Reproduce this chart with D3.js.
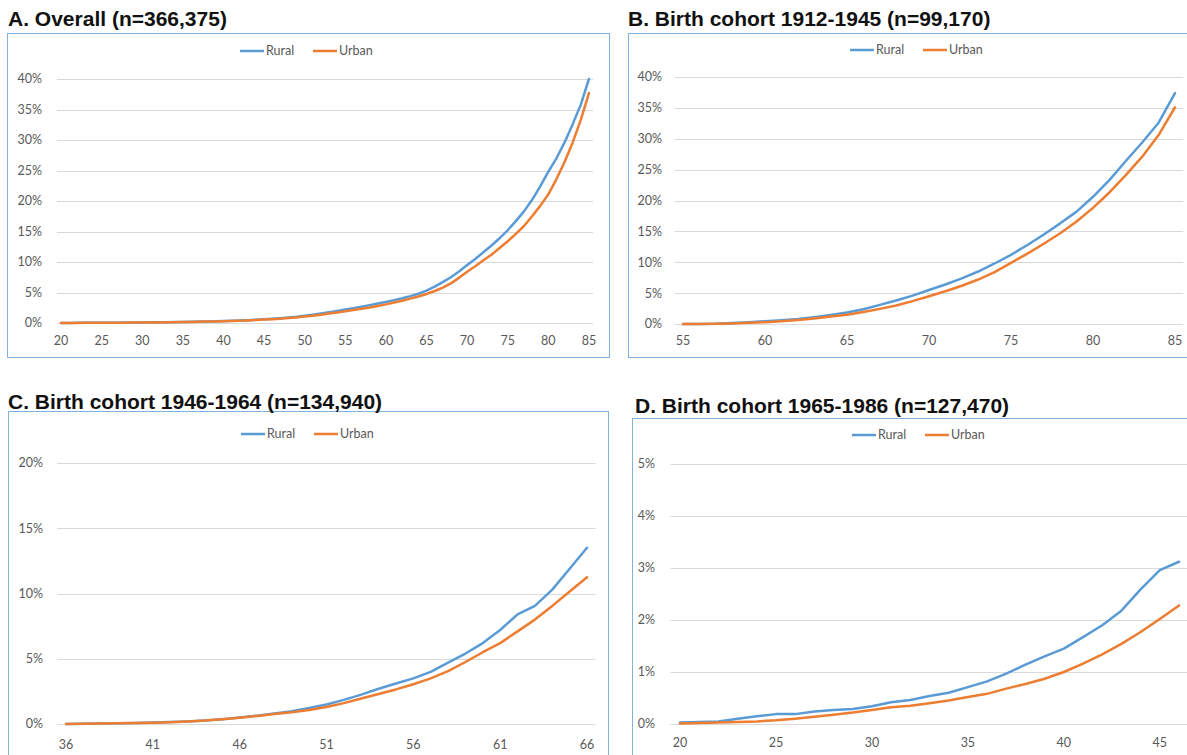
<!DOCTYPE html>
<html>
<head>
<meta charset="utf-8">
<script src="https://cdn.jsdelivr.net/npm/d3@7"></script>
<style>
  body { margin: 0; background: #fff; }
  svg { display: block; }
  .title { font-family: "Liberation Sans", Arial, sans-serif; font-weight: bold; font-size: 21px; fill: #111; }
  .tick-label, .legend-label { font-family: Lato, "Open Sans", sans-serif; font-size: 12.5px; fill: #595959; }
</style>
</head>
<body>
<svg id="chart" width="1187" height="755"></svg>
<script>
const RURAL_COLOR = '#5B9BD5';
const URBAN_COLOR = '#ED7D31';

// A. Overall, ages 20-85
const agesA = d3.range(20, 86);
const ruralA = [0.02, 0.02, 0.03, 0.03, 0.04, 0.05, 0.05, 0.06, 0.07, 0.08, 0.1,
    0.11, 0.12, 0.14, 0.16, 0.18, 0.2, 0.23, 0.26, 0.29, 0.33,
    0.37, 0.42, 0.47, 0.53, 0.6, 0.68, 0.78, 0.9, 1.03, 1.2,
    1.37, 1.55, 1.75, 1.97, 2.2, 2.44, 2.68, 2.93, 3.18, 3.45,
    3.75, 4.05, 4.4, 4.8, 5.3, 5.96, 6.7, 7.5, 8.45, 9.5,
    10.5, 11.6, 12.7, 13.9, 15.2, 16.7, 18.3, 20.2, 22.4, 24.8,
    27.0, 29.6, 32.6, 35.8, 40.0];
const urbanA = [0.02, 0.02, 0.02, 0.03, 0.03, 0.04, 0.04, 0.05, 0.06, 0.07, 0.08,
    0.09, 0.1, 0.12, 0.14, 0.16, 0.18, 0.2, 0.23, 0.26, 0.3,
    0.34, 0.38, 0.43, 0.49, 0.56, 0.63, 0.71, 0.81, 0.92, 1.05,
    1.2, 1.36, 1.54, 1.73, 1.93, 2.12, 2.33, 2.55, 2.8, 3.05,
    3.35, 3.65, 4.0, 4.35, 4.75, 5.25, 5.8, 6.5, 7.4, 8.4,
    9.3, 10.3, 11.2, 12.3, 13.4, 14.6, 15.9, 17.5, 19.2, 21.1,
    23.6, 26.4, 29.6, 33.3, 37.7];
const xTicksA = [20, 25, 30, 35, 40, 45, 50, 55, 60, 65, 70, 75, 80, 85];
const yTicksA = [0, 5, 10, 15, 20, 25, 30, 35, 40];

// B. Birth cohort 1912-1945, ages 55-85
const agesB = d3.range(55, 86);
const ruralB = [0.0, 0.02, 0.05, 0.15, 0.3, 0.45, 0.6, 0.8, 1.1, 1.45, 1.85,
    2.4, 3.1, 3.8, 4.6, 5.5, 6.4, 7.4, 8.5, 9.8, 11.2,
    12.8, 14.5, 16.3, 18.2, 20.6, 23.3, 26.4, 29.4, 32.6, 37.4];
const urbanB = [0.0, 0.01, 0.03, 0.1, 0.2, 0.3, 0.45, 0.65, 0.9, 1.2, 1.5,
    1.95, 2.45, 3.0, 3.7, 4.5, 5.3, 6.2, 7.2, 8.4, 9.9,
    11.4, 13.0, 14.7, 16.6, 18.8, 21.3, 24.1, 27.1, 30.6, 35.1];
const xTicksB = [55, 60, 65, 70, 75, 80, 85];
const yTicksB = [0, 5, 10, 15, 20, 25, 30, 35, 40];

// C. Birth cohort 1946-1964, ages 36-66
const agesC = d3.range(36, 67);
const ruralC = [0.0, 0.01, 0.03, 0.05, 0.08, 0.11, 0.15, 0.2, 0.27, 0.37, 0.5,
    0.64, 0.8, 0.98, 1.22, 1.5, 1.85, 2.25, 2.7, 3.1, 3.5,
    4.0, 4.7, 5.4, 6.2, 7.2, 8.4, 9.05, 10.3, 11.9, 13.5];
const urbanC = [0.0, 0.01, 0.03, 0.05, 0.07, 0.1, 0.14, 0.19, 0.26, 0.36, 0.48,
    0.62, 0.76, 0.9, 1.07, 1.3, 1.6, 1.95, 2.3, 2.65, 3.05,
    3.5, 4.05, 4.75, 5.5, 6.2, 7.1, 8.0, 9.05, 10.15, 11.25];
const xTicksC = [36, 41, 46, 51, 56, 61, 66];
const yTicksC = [0, 5, 10, 15, 20];

// D. Birth cohort 1965-1986, ages 20-46
const agesD = d3.range(20, 47);
const ruralD = [0.03, 0.04, 0.05, 0.1, 0.15, 0.19, 0.19, 0.24, 0.27, 0.29, 0.34,
    0.42, 0.46, 0.54, 0.6, 0.71, 0.82, 0.97, 1.14, 1.3, 1.45,
    1.67, 1.9, 2.18, 2.59, 2.96, 3.12];
const urbanD = [0.01, 0.02, 0.03, 0.04, 0.05, 0.07, 0.1, 0.14, 0.18, 0.22, 0.27,
    0.32, 0.35, 0.4, 0.45, 0.52, 0.58, 0.68, 0.77, 0.87, 1.0,
    1.16, 1.34, 1.54, 1.77, 2.02, 2.28];
const xTicksD = [20, 25, 30, 35, 40, 45];
const yTicksD = [0, 1, 2, 3, 4, 5];

const svg = d3.select('#chart');

function drawPanel(p) {
    const g = svg.append('g');

    g.append('rect')
        .attr('x', p.frame[0]).attr('y', p.frame[1])
        .attr('width', p.frame[2]).attr('height', p.frame[3])
        .attr('fill', 'none')
        .attr('stroke', '#7FB2E0')
        .attr('stroke-width', 1);

    g.append('text')
        .attr('class', 'title')
        .attr('x', p.titlePos[0]).attr('y', p.titlePos[1])
        .text(p.title);

    const x = d3.scalePoint().domain(p.ages).range(p.xRange).padding(0.5);
    const y = d3.scaleLinear().domain(p.yDomain).range(p.yRange);

    // gridlines
    g.selectAll('.grid').data(p.yTicks).join('line')
        .attr('x1', p.xRange[0]).attr('x2', p.xRange[1])
        .attr('y1', d => Math.round(y(d)) + 0.5).attr('y2', d => Math.round(y(d)) + 0.5)
        .attr('stroke', '#D9D9D9')
        .attr('stroke-width', 1);

    g.selectAll('.ylab').data(p.yTicks).join('text')
        .attr('class', 'tick-label')
        .attr('x', p.yLabelX)
        .attr('y', d => y(d))
        .attr('dy', '0.35em')
        .attr('text-anchor', 'end')
        .text(d => d + '%');

    g.selectAll('.xlab').data(p.xTicks).join('text')
        .attr('class', 'tick-label')
        .attr('x', d => x(d))
        .attr('y', p.xLabelY)
        .attr('dy', '0.35em')
        .attr('text-anchor', 'middle')
        .text(d => d);

    const line = d3.line()
        .x((d, i) => x(p.ages[i]))
        .y(d => y(d));

    [[p.rural, RURAL_COLOR], [p.urban, URBAN_COLOR]].forEach(([vals, color]) => {
        g.append('path')
            .datum(vals)
            .attr('d', line)
            .attr('fill', 'none')
            .attr('stroke', color)
            .attr('stroke-width', 2.5)
            .attr('stroke-linejoin', 'round')
            .attr('stroke-linecap', 'round');
    });

    // legend
    const lx = p.legendPos[0], ly = p.legendPos[1];
    [['Rural', RURAL_COLOR, 0], ['Urban', URBAN_COLOR, 73]].forEach(([name, color, off]) => {
        g.append('line')
            .attr('x1', lx + off).attr('x2', lx + off + 24)
            .attr('y1', ly).attr('y2', ly)
            .attr('stroke', color).attr('stroke-width', 2.5);
        g.append('text')
            .attr('class', 'legend-label')
            .attr('x', lx + off + 26).attr('y', ly)
            .attr('dy', '0.35em')
            .text(name);
    });
}

drawPanel({
    title: 'A. Overall (n=366,375)', titlePos: [8, 26],
    frame: [7.5, 33.5, 602, 324],
    ages: agesA, rural: ruralA, urban: urbanA,
    xTicks: xTicksA, yTicks: yTicksA,
    xRange: [57, 593], yDomain: [0, 40], yRange: [323, 79],
    yLabelX: 42, xLabelY: 341, legendPos: [240, 51]
});

drawPanel({
    title: 'B. Birth cohort 1912-1945 (n=99,170)', titlePos: [628, 26],
    frame: [628.5, 33.5, 600, 324],
    ages: agesB, rural: ruralB, urban: urbanB,
    xTicks: xTicksB, yTicks: yTicksB,
    xRange: [674.8, 1183.2], yDomain: [0, 40], yRange: [324, 77],
    yLabelX: 662, xLabelY: 341, legendPos: [850, 50]
});

drawPanel({
    title: 'C. Birth cohort 1946-1964 (n=134,940)', titlePos: [8, 409],
    frame: [8.5, 411.5, 600, 400],
    ages: agesC, rural: ruralC, urban: urbanC,
    xTicks: xTicksC, yTicks: yTicksC,
    xRange: [57.3, 595.7], yDomain: [0, 20], yRange: [724, 463],
    yLabelX: 43, xLabelY: 745, legendPos: [241, 434]
});

drawPanel({
    title: 'D. Birth cohort 1965-1986 (n=127,470)', titlePos: [635, 413],
    frame: [632.5, 418.5, 600, 400],
    ages: agesD, rural: ruralD, urban: urbanD,
    xTicks: xTicksD, yTicks: yTicksD,
    xRange: [670.4, 1188.6], yDomain: [0, 5], yRange: [724, 464],
    yLabelX: 655, xLabelY: 743, legendPos: [852, 435]
});
</script>
</body>
</html>
